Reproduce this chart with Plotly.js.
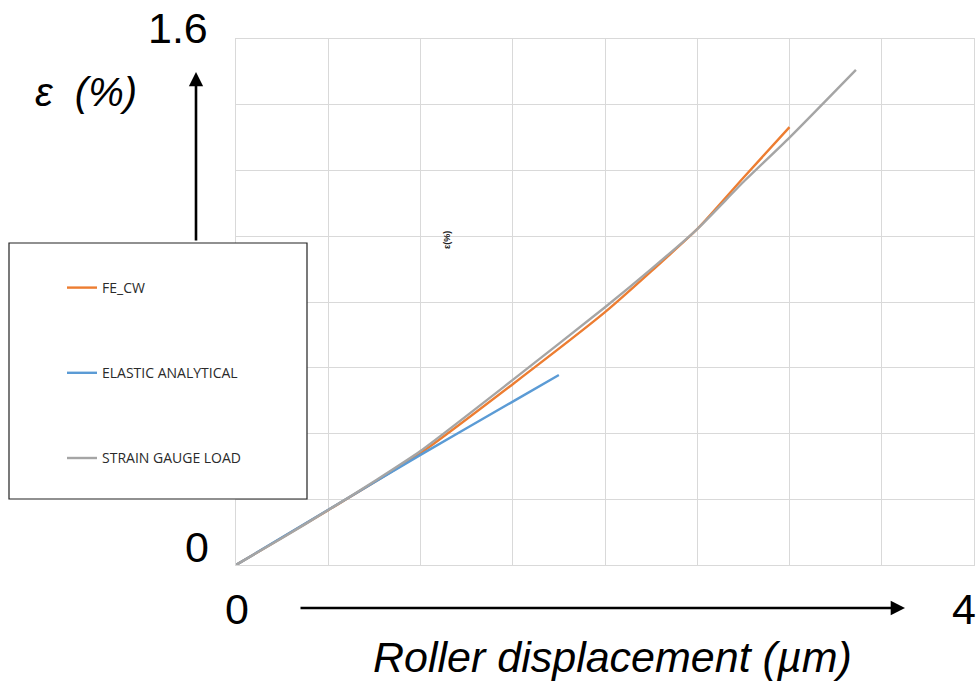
<!DOCTYPE html>
<html><head><meta charset="utf-8">
<script src="https://cdn.plot.ly/plotly-3.0.1.min.js"></script>
<style>html,body{margin:0;padding:0;background:#fff}#chart{width:980px;height:683px}</style>
</head><body><div id="chart"></div>
<script>
const seriesNames = ["FE_CW", "ELASTIC ANALYTICAL", "STRAIN GAUGE LOAD"];
const feX = [0, 0.5, 1.0, 1.5, 2.0, 2.25, 2.5, 2.75, 3.0];
const feY = [0, 0.167, 0.340, 0.550, 0.769, 0.893, 1.022, 1.178, 1.332];
const elX = [0, 0.5, 1.0, 1.5, 1.75];
const elY = [0, 0.168, 0.335, 0.497, 0.578];
const sgX = [0, 0.25, 0.5, 0.75, 1.0, 1.5, 2.0, 2.25, 2.5, 2.75, 3.0, 3.36];
const sgY = [0, 0.082, 0.167, 0.255, 0.347, 0.563, 0.784, 0.900, 1.022, 1.165, 1.300, 1.506];
const xTickLabels = ["0", "4"];
const yTickLabels = ["0", "1.6"];
const yTitle = "ε  (%)";
const xTitle = "Roller displacement (µm)";
const smallTitle = "ε(%)";

const colors = ["#ED7D31", "#5B9BD5", "#A5A5A5"];
const xs = [feX, elX, sgX], ys = [feY, elY, sgY];
const traces = xs.map((x, i) => ({
  x: x, y: ys[i], type: "scatter", mode: "lines", name: seriesNames[i],
  legendgroup: "g" + i,
  line: {color: colors[i], width: 2.4, shape: "spline", smoothing: 0.6}
}));

const L = 236, R = 974, T = 39, B = 565;
const px = v => (v - L) / (R - L);
const py = v => (B - v) / (B - T);
const big = {family: "Liberation Sans, Arial, sans-serif", size: 43, color: "#000"};

const layout = {
  width: 980, height: 683,
  margin: {l: L, r: 980 - R, t: T, b: 683 - B},
  paper_bgcolor: "#fff", plot_bgcolor: "#fff",
  showlegend: true,
  xaxis: {range: [0, 4], dtick: 0.5, showticklabels: false, showgrid: true,
    gridcolor: "#d9d9d9", gridwidth: 1, zeroline: false, showline: true, mirror: true,
    linecolor: "#d9d9d9", linewidth: 1, ticks: ""},
  yaxis: {range: [0, 1.6], dtick: 0.2, showticklabels: false, showgrid: true,
    gridcolor: "#d9d9d9", gridwidth: 1, zeroline: false, showline: true, mirror: true,
    linecolor: "#d9d9d9", linewidth: 1, ticks: ""},
  legend: {x: px(62), y: py(272), xanchor: "left", yanchor: "top",
    bgcolor: "rgba(0,0,0,0)", borderwidth: 0, tracegroupgap: 64,
    font: {family: "Open Sans, Noto Sans, sans-serif", size: 14, color: "#2a2a2a"},
    itemwidth: 30},
  shapes: [{type: "rect", xref: "paper", yref: "paper", x0: px(9), x1: px(307), y0: py(243), y1: py(499),
    fillcolor: "#fff", line: {color: "#222", width: 1.2}, layer: "above"}],
  annotations: [
    {xref: "paper", yref: "paper", x: px(178), y: py(28), text: yTickLabels[1], showarrow: false, font: big, xanchor: "center", yanchor: "middle"},
    {xref: "paper", yref: "paper", x: px(197), y: py(547), text: yTickLabels[0], showarrow: false, font: big, xanchor: "center", yanchor: "middle"},
    {xref: "paper", yref: "paper", x: px(237), y: py(609), text: xTickLabels[0], showarrow: false, font: big, xanchor: "center", yanchor: "middle"},
    {xref: "paper", yref: "paper", x: px(964), y: py(609), text: xTickLabels[1], showarrow: false, font: big, xanchor: "center", yanchor: "middle"},
    {xref: "paper", yref: "paper", x: px(86), y: py(92), text: "<i>" + yTitle + "</i>", showarrow: false,
      font: {family: "Liberation Sans, Arial, sans-serif", size: 40, color: "#000"}, xanchor: "center", yanchor: "middle"},
    {xref: "paper", yref: "paper", x: px(612), y: py(657), text: "<i>" + xTitle + "</i>", showarrow: false,
      font: {family: "Liberation Sans, Arial, sans-serif", size: 43, color: "#000"}, xanchor: "center", yanchor: "middle"},
    {xref: "paper", yref: "paper", x: px(447), y: py(240), text: "<b>" + smallTitle + "</b>", showarrow: false, textangle: -90,
      font: {family: "Liberation Sans, Arial, sans-serif", size: 9, color: "#222"}, xanchor: "center", yanchor: "middle"},
    {xref: "paper", yref: "paper", x: px(196), y: py(72), ax: 0, ay: 170, text: "", showarrow: true,
      arrowhead: 2, arrowsize: 1.1, arrowwidth: 2.6, arrowcolor: "#000"},
    {xref: "paper", yref: "paper", x: px(905), y: py(608), ax: -606, ay: 0, text: "", showarrow: true,
      arrowhead: 2, arrowsize: 1.1, arrowwidth: 2.6, arrowcolor: "#000"}
  ]
};
Plotly.newPlot("chart", traces, layout, {displayModeBar: false, staticPlot: true});
</script></body></html>
